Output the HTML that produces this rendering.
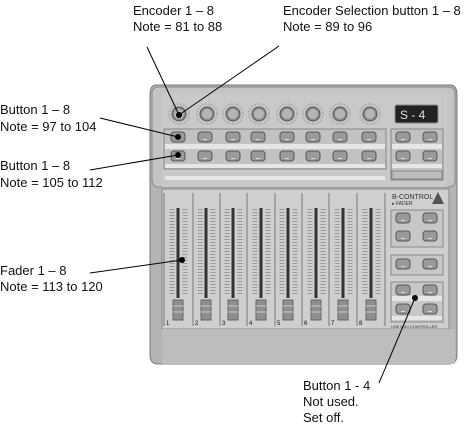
<!DOCTYPE html>
<html><head><meta charset="utf-8"><style>
html,body{margin:0;padding:0;background:#fff;}
svg{display:block;}
text{font-family:"Liberation Sans",Arial,sans-serif;font-size:13px;fill:#111;}
</style></head><body>
<svg width="466" height="425" viewBox="0 0 466 425" xmlns="http://www.w3.org/2000/svg">
<defs>
<g id="btn"><rect x="-7" y="-5" width="14" height="10" rx="3" fill="#9a9a9a" stroke="#555" stroke-width="1"/><rect x="-2" y="2" width="4" height="1" fill="#ddd"/></g>
<g id="knob"><circle r="10" fill="none" stroke="#aaa" stroke-width="2" stroke-dasharray="1.5 1.5"/><circle r="7" fill="#8a8a8a" stroke="#555"/><circle r="5" fill="#b5b5b5"/></g>
<g id="fader">
<line x1="-6" y1="24" x2="-6" y2="110" stroke="#999" stroke-width="5" stroke-dasharray="1 2"/>
<line x1="7" y1="24" x2="7" y2="110" stroke="#999" stroke-width="5" stroke-dasharray="1 2"/>
<rect x="-1.5" y="23" width="3" height="90" fill="#333"/>
<rect x="-5" y="115" width="10" height="20" fill="#8f8f8f" stroke="#666"/>
<line x1="-5" y1="121" x2="5" y2="121" stroke="#ccc"/><line x1="-5" y1="127" x2="5" y2="127" stroke="#ccc"/>
</g>
</defs>
<!-- device outer -->
<path d="M156 85 H450 Q457 85 457 95 V355 Q457 364 448 364 H158 Q150 364 150 355 V95 Q150 85 156 85 Z" fill="#b4b4b4" stroke="#777"/>
<rect x="152" y="87" width="303" height="100" rx="6" fill="#c4c4c4" stroke="#888"/>
<rect x="162" y="93" width="285" height="94" fill="#c9c9c9"/>
<!-- knobs -->
<use href="#knob" x="179" y="114"/><use href="#knob" x="207" y="114"/><use href="#knob" x="233" y="114"/><use href="#knob" x="259" y="114"/>
<use href="#knob" x="287" y="114"/><use href="#knob" x="313" y="114"/><use href="#knob" x="340" y="114"/><use href="#knob" x="370" y="114"/>
<!-- display -->
<rect x="395" y="105" width="43" height="18" rx="2" fill="#222" stroke="#888"/>
<text x="400" y="119" style="fill:#ddd;font-size:12px">S - 4</text>
<!-- main button panel -->
<rect x="164" y="129" width="222" height="40" fill="#c2c2c2" stroke="#888"/>
<rect x="165" y="144" width="220" height="5" fill="#e6e6e6"/>
<rect x="165" y="164" width="220" height="4" fill="#e6e6e6"/>
<rect x="165" y="176" width="220" height="4" fill="#e6e6e6"/>
<g>
<use href="#btn" x="178" y="137"/><use href="#btn" x="205" y="137"/><use href="#btn" x="233" y="137"/><use href="#btn" x="258" y="137"/>
<use href="#btn" x="287" y="137"/><use href="#btn" x="313" y="137"/><use href="#btn" x="340" y="137"/><use href="#btn" x="369" y="137"/>
<use href="#btn" x="178" y="156"/><use href="#btn" x="205" y="156"/><use href="#btn" x="233" y="156"/><use href="#btn" x="258" y="156"/>
<use href="#btn" x="287" y="156"/><use href="#btn" x="313" y="156"/><use href="#btn" x="340" y="156"/><use href="#btn" x="369" y="156"/>
</g>
<!-- right top panel -->
<rect x="391" y="129" width="52" height="51" fill="#c2c2c2" stroke="#888"/>
<rect x="392" y="144" width="50" height="5" fill="#e6e6e6"/>
<rect x="392" y="164" width="50" height="4" fill="#e6e6e6"/>
<use href="#btn" x="403" y="137"/><use href="#btn" x="430" y="137"/>
<use href="#btn" x="403" y="156"/><use href="#btn" x="430" y="156"/>
<rect x="392" y="171" width="50" height="8" fill="#bbb" stroke="#888"/>
<!-- lower fader panel -->
<rect x="162" y="189" width="287" height="140" fill="#cfcfcf" stroke="#888"/>
<rect x="162" y="329" width="293" height="35" fill="#bdbdbd"/>
<g stroke="#777">
<line x1="164" y1="193" x2="164" y2="326"/><line x1="193" y1="193" x2="193" y2="326"/><line x1="220" y1="193" x2="220" y2="326"/>
<line x1="247" y1="193" x2="247" y2="326"/><line x1="275" y1="193" x2="275" y2="326"/><line x1="302" y1="193" x2="302" y2="326"/>
<line x1="329" y1="193" x2="329" y2="326"/><line x1="357" y1="193" x2="357" y2="326"/><line x1="385" y1="193" x2="385" y2="326"/>
</g>
<g transform="translate(0,185)">
<use href="#fader" x="178"/><use href="#fader" x="206"/><use href="#fader" x="233"/><use href="#fader" x="261"/>
<use href="#fader" x="288"/><use href="#fader" x="316"/><use href="#fader" x="343"/><use href="#fader" x="371"/>
</g>
<g style="font-size:6px">
<text x="166" y="325" style="font-size:6px">1</text><text x="195" y="325" style="font-size:6px">2</text><text x="222" y="325" style="font-size:6px">3</text><text x="249" y="325" style="font-size:6px">4</text>
<text x="277" y="325" style="font-size:6px">5</text><text x="304" y="325" style="font-size:6px">6</text><text x="331" y="325" style="font-size:6px">7</text><text x="359" y="325" style="font-size:6px">8</text>
</g>
<!-- right lower -->
<text x="392" y="199" style="font-size:7px;fill:#333">B-CONTROL</text>
<text x="392" y="205" style="font-size:5px;fill:#333">▸ FADER</text>
<path d="M432 204 L438 192 L444 204 Z" fill="#555"/>
<rect x="391" y="210" width="52" height="37" fill="#c7c7c7" stroke="#888"/>
<use href="#btn" x="403" y="218"/><use href="#btn" x="430" y="218"/>
<use href="#btn" x="403" y="236"/><use href="#btn" x="430" y="236"/>
<rect x="391" y="255" width="52" height="20" fill="#c7c7c7" stroke="#888"/>
<use href="#btn" x="403" y="264"/><use href="#btn" x="430" y="264"/>
<rect x="391" y="282" width="52" height="40" fill="#c7c7c7" stroke="#888"/>
<rect x="392" y="296" width="50" height="5" fill="#e6e6e6"/>
<rect x="392" y="316" width="50" height="4" fill="#e6e6e6"/>
<use href="#btn" x="403" y="290"/><use href="#btn" x="430" y="290"/>
<use href="#btn" x="403" y="309"/><use href="#btn" x="430" y="309"/>
<text x="391" y="328" style="font-size:4px;fill:#333">USB MIDI CONTROLLER</text>
<!-- callouts -->
<g stroke="#000" stroke-width="1">
<line x1="147" y1="47" x2="179" y2="115"/>
<line x1="279" y1="46" x2="179" y2="115"/>
<line x1="100" y1="118" x2="178" y2="137"/>
<line x1="90" y1="170" x2="178" y2="155"/>
<line x1="90" y1="273" x2="182" y2="260"/>
<line x1="379" y1="383" x2="415" y2="298"/>
</g>
<g fill="#000">
<circle cx="179" cy="115" r="3"/><circle cx="178" cy="137" r="3"/><circle cx="178" cy="155" r="3"/>
<circle cx="182" cy="260" r="3"/><circle cx="415" cy="298" r="3"/>
</g>
<text x="133" y="15">Encoder 1 – 8</text>
<text x="133" y="31">Note = 81 to 88</text>
<text x="283" y="15">Encoder Selection button 1 – 8</text>
<text x="283" y="31">Note = 89 to 96</text>
<text x="0" y="114">Button 1 – 8</text>
<text x="0" y="131">Note = 97 to 104</text>
<text x="0" y="170">Button 1 – 8</text>
<text x="0" y="187">Note = 105 to 112</text>
<text x="0" y="275">Fader 1 – 8</text>
<text x="0" y="291">Note = 113 to 120</text>
<text x="303" y="390">Button 1 - 4</text>
<text x="303" y="406">Not used.</text>
<text x="303" y="422">Set off.</text>
</svg>
</body></html>
